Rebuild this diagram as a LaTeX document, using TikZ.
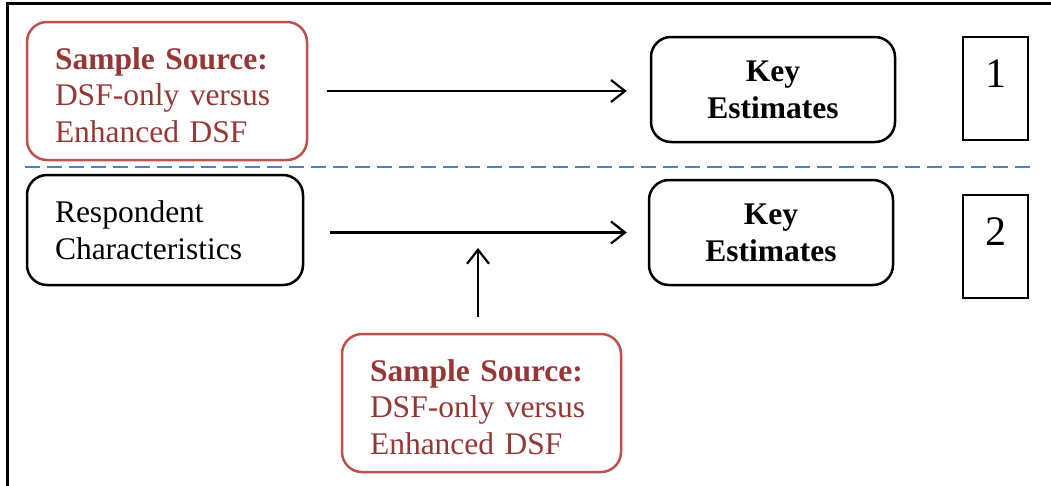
\documentclass[tikz,border=0pt]{standalone}
\usepackage{fontspec}
\setmainfont{Liberation Serif}
\usepackage{xcolor}
\usepackage{tikz}
\usetikzlibrary{positioning, arrows.meta, calc}
\definecolor{srcred}{HTML}{C0504D}
\definecolor{srctext}{HTML}{953735}
\definecolor{splitblue}{HTML}{4F81BD}

\tikzset{
    bigtext/.style={font=\fontsize{31.5}{36.5}\selectfont},
    roundbox/.style={draw, line width=2.5pt, rounded corners=20pt, bigtext},
    srcbox/.style={roundbox, draw=srcred, text=srctext, align=left,
          text width=224pt, inner xsep=28pt, minimum height=138pt,
          execute at begin node={\rule{0pt}{30pt}}},
    estbox/.style={roundbox, align=center, font=\fontsize{31.5}{37}\selectfont\bfseries,
          minimum width=244pt, minimum height=105pt},
    numbox/.style={draw, line width=1.5pt, minimum width=65pt, inner ysep=0pt,
          text height=50pt, text depth=53pt, font=\fontsize{42}{42}\selectfont},
    flow/.style={line width=2.4pt, -{Straight Barb[length=14pt, width=22pt, line width=2.2pt]}},
}

\begin{document}
\begin{tikzpicture}[x=1pt, y=-1pt]
    \useasboundingbox (0,0) rectangle (1051,485);
    \draw[line width=3pt] (1060,3) -- (7.5,3) -- (7.5,495);

    % first model
    \node[srcbox] (srcA) at (167,91) {%
      \textbf{Sample Source:}\\DSF-only versus\\Enhanced DSF};
    \node[estbox] (estA) at (773,89.5) {Key\\Estimates};
    \node[numbox] (numA) at (995.5,88.5) {1};
    \draw[flow, shorten <=19pt, shorten >=23pt] (srcA.east) -- (srcA.east -| estA.west);

    \draw[splitblue, line width=2pt, dash pattern=on 15pt off 7pt] (25,167) -- (1030,167);

    % second model
    \node[roundbox, align=left, text width=220pt, inner xsep=28pt, minimum height=110pt]
          (resp) at (165,230) {Respondent\\Characteristics};
    \node[estbox] (estB) at (771,232.5) {Key\\Estimates};
    \node[numbox] (numB) at (995.5,246.5) {2};
    \draw[flow, shorten <=26pt, shorten >=21pt] (resp.east |- estB.west) -- (estB.west);

    \node[srcbox, text width=223pt] (srcB) at (481.5,403) {%
      \textbf{Sample Source:}\\DSF-only versus\\Enhanced DSF};
    \coordinate (meet) at (478,248);
    \draw[flow, shorten <=16pt] (srcB.north -| meet) -- (meet);
\end{tikzpicture}
\end{document}
